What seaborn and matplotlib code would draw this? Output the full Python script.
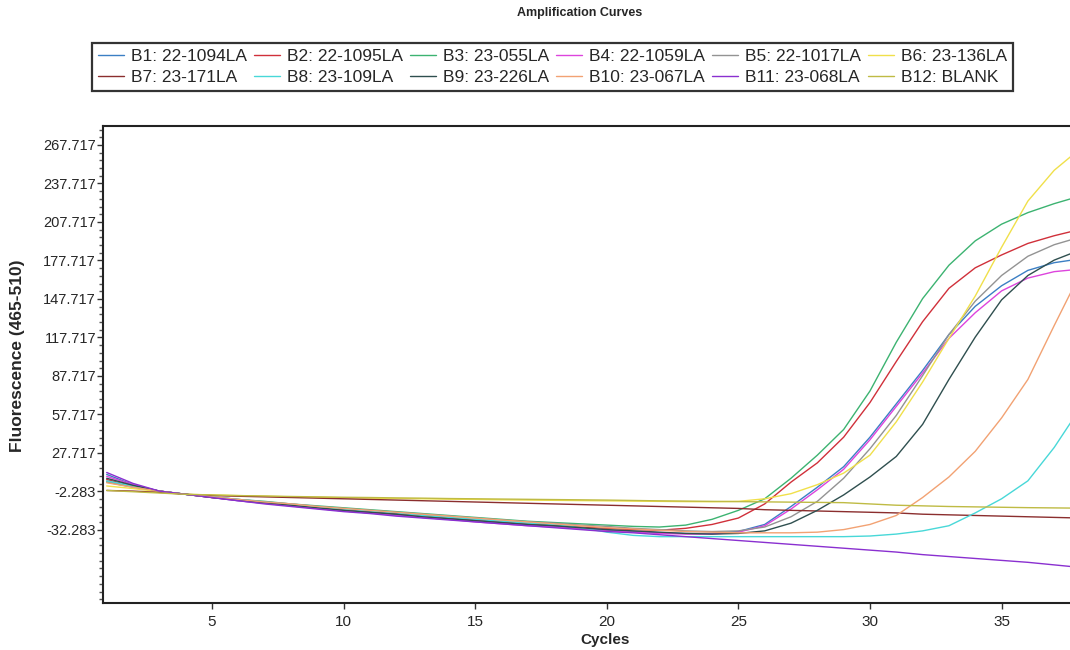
import pandas as pd
import matplotlib
matplotlib.use("Agg")
import matplotlib.pyplot as plt
from matplotlib.ticker import FixedLocator
import seaborn as sns

# -----------------------------
# Data
# -----------------------------
cycles = list(range(1, 39))

samples = ["B1: 22-1094LA", "B2: 22-1095LA", "B3: 23-055LA", "B4: 22-1059LA",
           "B5: 22-1017LA", "B6: 23-136LA", "B7: 23-171LA", "B8: 23-109LA",
           "B9: 23-226LA", "B10: 23-067LA", "B11: 23-068LA", "B12: BLANK"]

colors = ["#3b7fc4", "#d0303a", "#3cb371", "#dd44dd", "#939393", "#f0e04a",
          "#8b2e2e", "#48d8d8", "#2f4f4f", "#f2a273", "#8a30d0", "#bfbb44"]

b1 = [11, 3, -2, -4.5, -7, -9.5, -11.5, -13.5, -15.5, -17.5, -19, -20.5, -22.5, -24, -25.5,
      -27, -28.5, -29.5, -31, -32.5, -33.5, -34.5, -35, -35, -33.5, -28, -14, 1, 17, 40,
      66, 92, 120, 142, 158, 170, 176, 179]
b2 = [7, 2, -2, -4.5, -7, -9, -11, -13, -14.5, -16.5, -18, -19.5, -21, -23, -24.5,
      -26, -27.5, -28.5, -30, -31, -32, -32.5, -31, -28, -23, -12, 5, 20, 40, 67,
      99, 130, 156, 172, 182, 191, 197, 202]
b3 = [5, 1, -2, -4.5, -6.5, -8.5, -10, -12, -13.5, -15, -16.5, -18, -19.5, -21, -22.5,
      -24, -25.5, -26.5, -27.5, -28.5, -29.5, -30, -28.5, -24, -17, -8, 8, 26, 46, 76,
      114, 148, 174, 193, 206, 215, 222, 228]
b4 = [9.5, 3, -2, -4.5, -7, -9.5, -11.5, -13.5, -15.5, -17.5, -19, -21, -22.5, -24, -26,
      -27.5, -29, -30, -31.5, -33, -34, -35, -35.5, -35.5, -34, -29, -16, -1, 15, 38,
      64, 90, 117, 137, 154, 164, 169, 171]
b5 = [5.5, 1.5, -2, -4.5, -6.5, -8.5, -10.5, -12, -14, -15.5, -17, -18.5, -20, -21.5, -23,
      -24.5, -26, -27, -28.5, -29.5, -31, -32, -33, -33.5, -33, -30, -22, -10, 8, 31,
      57, 88, 120, 146, 166, 181, 190, 196]
b6 = [2, 0, -2.5, -4.5, -5, -5.5, -6, -6.5, -6.8, -7.2, -7.5, -7.8, -8, -8.3, -8.5,
      -8.8, -9, -9.2, -9.4, -9.6, -9.8, -10, -10.2, -10.3, -10, -8, -4, 3, 12, 26,
      52, 83, 117, 150, 188, 224, 248, 265]
b7 = [-1.5, -2, -3, -4.5, -5.5, -6, -6.5, -7, -7.5, -8, -8.5, -9, -9.5, -10, -10.5,
      -11, -11.5, -12, -12.5, -13, -13.5, -14, -14.5, -15, -15.5, -16.5, -17, -17.5, -18, -18.5,
      -19, -20, -20.5, -21, -21.5, -22, -22.5, -23]
b8 = [6, 2, -2, -4.5, -6.5, -8.5, -10.5, -12.5, -14.5, -16, -17.5, -19, -21, -22.5, -24,
      -25.5, -27, -28, -30.5, -34, -36.5, -37.5, -37.5, -37.5, -37.5, -37.5, -37.5, -37.5, -37.5, -37,
      -35.5, -33, -29, -19, -8, 6, 32, 63]
b9 = [8, 2.5, -2, -4.5, -7, -9, -11, -13, -15, -17, -18.5, -20, -22, -23.5, -25,
      -26.5, -28, -29, -30.5, -32, -33, -34, -35, -35.5, -35, -33, -27, -17, -5, 9,
      25, 50, 85, 118, 147, 166, 178, 186]
b10 = [4.5, 1, -2, -4.5, -6.5, -8.5, -10.5, -12, -14, -15.5, -17, -18.5, -20, -21.5, -23,
       -24.5, -26, -27.5, -29, -30.5, -31.5, -32.5, -33.5, -34, -34.5, -34.5, -34.5, -34, -32, -28,
       -21, -7, 9, 29, 55, 85, 127, 168]
b11 = [12.5, 4, -2, -4.5, -7, -9.5, -12, -14, -16, -18, -19.5, -21.5, -23, -24.5, -26,
       -27.5, -29, -30.5, -32, -33.5, -34.5, -36, -37.5, -39, -40.5, -42, -43.5, -45, -46.5, -48,
       -49.5, -51.5, -53, -54.5, -56, -57.5, -59.5, -61.5]
b12 = [-1.5, -2.5, -3.5, -4.5, -5, -5.5, -5.8, -6.2, -6.5, -6.8, -7, -7.3, -7.5, -7.8, -8,
       -8.2, -8.4, -8.6, -8.8, -9, -9.3, -9.6, -9.8, -10, -10.2, -10.4, -10.6, -10.8, -11, -12,
       -13, -13.5, -14, -14.3, -14.6, -14.9, -15.1, -15.3]

series = [b1, b2, b3, b4, b5, b6, b7, b8, b9, b10, b11, b12]

ytick_values = [-32.283, -2.283, 27.717, 57.717, 87.717, 117.717,
                147.717, 177.717, 207.717, 237.717, 267.717]
xtick_values = [5, 10, 15, 20, 25, 30, 35]

# long-form table for seaborn
wide = pd.DataFrame(dict(zip(samples, series)))
wide["Cycle"] = cycles
df = wide.melt(id_vars="Cycle", var_name="Sample", value_name="Fluorescence")

# -----------------------------
# Plot
# -----------------------------
sns.set_style("white")
plt.rcParams["font.family"] = ["Liberation Sans", "DejaVu Sans"]

W, H = 1070, 650
fig = plt.figure(figsize=(W / 100, H / 100), dpi=100)
ax = fig.add_axes([103 / W, 1 - 603 / H, 1 - 103 / W, (603 - 126) / H])

sns.lineplot(data=df, x="Cycle", y="Fluorescence", hue="Sample", hue_order=samples,
             palette=colors, linewidth=1.0, legend=False, ax=ax)

ax.set_xlim(0.86, 37.6)
ax.set_ylim(-89.2, 282.5)
ax.set_xlabel("")
ax.set_ylabel("")

ax.set_xticks(xtick_values)
ax.set_yticks(ytick_values)
ax.set_yticklabels([f"{v:.3f}" for v in ytick_values])
minor = [279.717 - 6 * k for k in range(62) if 279.717 - 6 * k > -89]
ax.yaxis.set_minor_locator(FixedLocator(minor))

ax.tick_params(axis="x", which="major", bottom=True, direction="out", length=4,
               width=1, labelsize=11, pad=5, color="#333333")
ax.tick_params(axis="y", which="major", left=True, direction="out", length=4,
               width=1, labelsize=10.5, pad=1, color="#333333")
ax.tick_params(axis="y", which="minor", left=True, direction="out", length=3,
               width=1, color="#555555")

for side in ["left", "bottom", "top"]:
    ax.spines[side].set_color("#222222")
    ax.spines[side].set_linewidth(1.5)
ax.spines["right"].set_visible(False)

# legend: row 1 = B1..B6, row 2 = B7..B12
handles = ax.lines[:12]
order = [0, 6, 1, 7, 2, 8, 3, 9, 4, 10, 5, 11]
leg = fig.legend([handles[i] for i in order], [samples[i] for i in order],
                 loc="upper left", bbox_to_anchor=(92 / W, 1 - 43 / H),
                 ncol=6, fontsize=12.5, handlelength=1.5, handletextpad=0.4,
                 labelspacing=0.33, borderpad=0.35, borderaxespad=0,
                 columnspacing=0.4, frameon=True, fancybox=False,
                 framealpha=1, edgecolor="#333333")
leg.get_frame().set_linewidth(1.6)

fig.text(580 / W, 1 - 13 / H, "Amplification Curves", ha="center", va="center",
         fontsize=9, fontweight="bold")
fig.text(18 / W, 1 - 356 / H, "Fluorescence (465-510)", ha="center", va="center",
         rotation=90, fontsize=12.5, fontweight="bold")
fig.text(605 / W, 1 - 640 / H, "Cycles", ha="center", va="center",
         fontsize=11, fontweight="bold")

fig.savefig("out.png", dpi=100)
